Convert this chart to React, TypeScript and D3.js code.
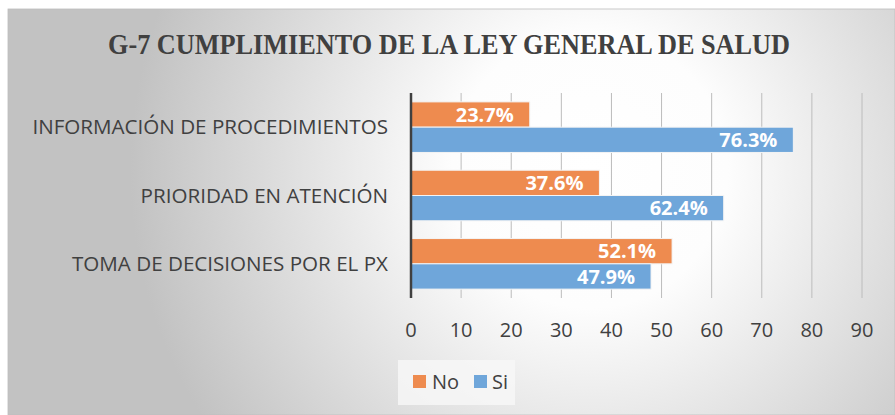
import React, { useEffect, useRef } from 'react';
import * as d3 from 'd3';

const categories = ['INFORMACIÓN DE PROCEDIMIENTOS', 'PRIORIDAD EN ATENCIÓN', 'TOMA DE DECISIONES POR EL PX'];
const seriesNames = ['No', 'Si'];
const noValues = [23.7, 37.6, 52.1];
const siValues = [76.3, 62.4, 47.9];
const ticks = [0, 10, 20, 30, 40, 50, 60, 70, 80, 90];
const title = 'G-7 CUMPLIMIENTO DE LA LEY GENERAL DE SALUD';

const colors = ['#EE8B4F', '#6FA6DA'];
const width = 895;
const height = 415;
const margin = { top: 93, right: 33, bottom: 117, left: 411 };
const sans = "'Open Sans', 'Noto Sans', sans-serif";

function App() {
  const ref = useRef<SVGSVGElement>(null);

  useEffect(() => {
    const svg = d3.select(ref.current);
    svg.selectAll('*').remove();

    // background
    const defs = svg.append('defs');
    const grad = defs.append('radialGradient')
      .attr('id', 'bg')
      .attr('gradientUnits', 'userSpaceOnUse')
      .attr('cx', 590).attr('cy', 170).attr('r', 460);
    grad.append('stop').attr('offset', '0%').attr('stop-color', '#ffffff');
    grad.append('stop').attr('offset', '30%').attr('stop-color', '#fdfdfd');
    grad.append('stop').attr('offset', '100%').attr('stop-color', '#c2c2c2');

    svg.append('rect').attr('width', width).attr('height', height).attr('fill', '#ffffff');
    svg.append('rect')
      .attr('x', 8).attr('y', 9)
      .attr('width', width - 8).attr('height', height - 9)
      .attr('fill', 'url(#bg)')
      .attr('stroke', '#bdbdbd').attr('stroke-width', 0.8);

    // title
    svg.append('text')
      .attr('x', 449).attr('y', 54)
      .attr('text-anchor', 'middle')
      .attr('font-family', "'Liberation Serif', 'Times New Roman', serif")
      .attr('font-weight', 'bold')
      .attr('font-size', 29)
      .attr('fill', '#404040')
      .attr('textLength', 682)
      .attr('lengthAdjust', 'spacingAndGlyphs')
      .text(title);

    const innerW = width - margin.left - margin.right;
    const innerH = height - margin.top - margin.bottom;

    const x = d3.scaleLinear().domain([0, 90]).range([0, innerW]);
    const y = d3.scaleBand<string>().domain(categories).range([0, innerH])
      .paddingInner(0.26).paddingOuter(0.13);
    const ySub = d3.scaleBand<string>().domain(seriesNames).range([0, y.bandwidth()]);

    const g = svg.append('g').attr('transform', `translate(${margin.left},${margin.top})`);

    // gridlines
    g.selectAll('line.grid')
      .data(ticks.slice(1))
      .enter()
      .append('line')
      .attr('class', 'grid')
      .attr('x1', (d) => x(d)).attr('x2', (d) => x(d))
      .attr('y1', 0).attr('y2', innerH)
      .attr('stroke', '#bcbcbc')
      .attr('stroke-width', 1);

    // tick labels
    g.selectAll('text.tick')
      .data(ticks)
      .enter()
      .append('text')
      .attr('class', 'tick')
      .attr('x', (d) => x(d))
      .attr('y', innerH + 39)
      .attr('text-anchor', 'middle')
      .attr('font-family', sans)
      .attr('font-size', 20)
      .attr('fill', '#404040')
      .text((d) => d);

    // category labels
    g.selectAll('text.cat')
      .data(categories)
      .enter()
      .append('text')
      .attr('class', 'cat')
      .attr('x', -23)
      .attr('y', (d) => (y(d) as number) + y.bandwidth() / 2)
      .attr('dy', '0.35em')
      .attr('text-anchor', 'end')
      .attr('font-family', sans)
      .attr('font-size', 20.6)
      .attr('fill', '#404040')
      .text((d) => d);

    const rows = categories.map((c, i) => ({
      cat: c,
      vals: [
        { s: seriesNames[0], v: noValues[i], color: colors[0] },
        { s: seriesNames[1], v: siValues[i], color: colors[1] },
      ],
    }));

    const grp = g.selectAll('g.row')
      .data(rows)
      .enter()
      .append('g')
      .attr('class', 'row')
      .attr('transform', (d) => `translate(0,${y(d.cat)})`);

    const bar = grp.selectAll('g.bar')
      .data((d) => d.vals)
      .enter()
      .append('g')
      .attr('class', 'bar');

    bar.append('rect')
      .attr('x', 0)
      .attr('y', (d) => ySub(d.s) as number)
      .attr('width', (d) => x(d.v))
      .attr('height', ySub.bandwidth())
      .attr('fill', (d) => d.color)
      .attr('stroke', '#f4f4f4')
      .attr('stroke-width', 1);

    bar.append('text')
      .attr('x', (d) => x(d.v) - 16)
      .attr('y', (d) => (ySub(d.s) as number) + ySub.bandwidth() / 2)
      .attr('dy', '0.36em')
      .attr('text-anchor', 'end')
      .attr('font-family', sans)
      .attr('font-weight', 'bold')
      .attr('font-size', 20)
      .attr('fill', '#ffffff')
      .text((d) => `${d.v.toFixed(1)}%`);

    // axis line
    g.append('line')
      .attr('x1', 0).attr('x2', 0)
      .attr('y1', 0).attr('y2', innerH)
      .attr('stroke', '#404040')
      .attr('stroke-width', 2.5);

    // legend
    const lg = svg.append('g').attr('transform', 'translate(398,360)');
    lg.append('rect').attr('width', 117).attr('height', 45).attr('fill', '#f7f7f7').attr('fill-opacity', 0.8);
    const items = [
      { name: seriesNames[0], color: colors[0], x: 15, tx: 34 },
      { name: seriesNames[1], color: colors[1], x: 76, tx: 94 },
    ];
    items.forEach((it) => {
      lg.append('rect').attr('x', it.x).attr('y', 15).attr('width', 13).attr('height', 13).attr('fill', it.color);
      lg.append('text')
        .attr('x', it.tx).attr('y', 21.5).attr('dy', '0.36em')
        .attr('font-family', sans)
        .attr('font-size', 20)
        .attr('fill', '#404040')
        .text(it.name);
    });
  }, []);

  return (
    <svg
      ref={ref}
      width={width}
      height={height}
      style={{ position: 'absolute', left: 0, top: 0, display: 'block' }}
    />
  );
}

export default App;
